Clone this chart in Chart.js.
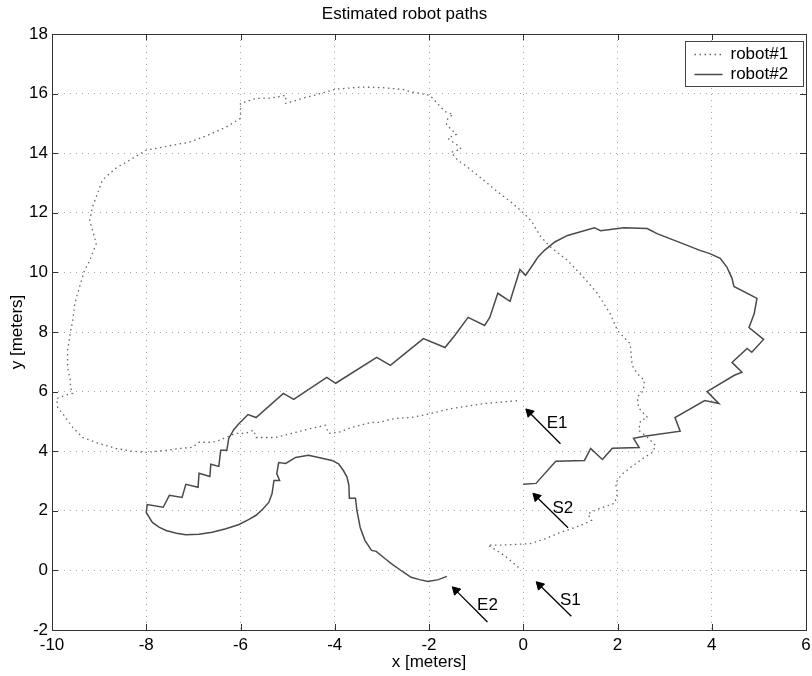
<!DOCTYPE html>
<html>
<head>
<meta charset="utf-8">
<title>Estimated robot paths</title>
<script src="https://cdn.jsdelivr.net/npm/chart.js@4.4.1/dist/chart.umd.min.js"></script>
<style>
  html, body { margin: 0; padding: 0; background: #fff; }
  canvas { display: block; }
</style>
</head>
<body>
<canvas id="pathChart" width="812" height="676"></canvas>
<script>
  // robot#1 (dotted), from S1 round the big loop to E1
  const robot1X = [-0.1, -0.4, -0.75, -0.45, 0.15, 0.45, 0.75, 1.2, 1.45, 1.37,
    1.62, 1.94, 2.0, 1.96, 2.07, 2.28, 2.57, 2.74, 2.81, 2.64,
    2.45, 2.49, 2.64, 2.45, 2.42, 2.55, 2.57, 2.42, 2.31, 2.27,
    2.0, 1.85, 1.57, 1.3, 0.94, 0.58, 0.37, 0.17, 0.0, -0.26,
    -0.54, -0.96, -1.24, -1.38, -1.53, -1.32, -1.38, -1.49, -1.6, -1.42,
    -1.53, -1.63, -1.6, -1.49, -1.66, -1.84, -1.98, -2.16, -2.37, -2.55,
    -3.0, -3.43, -3.98, -4.3, -4.62, -5.04, -5.04, -5.35, -5.67, -6.0,
    -6.0, -6.31, -6.7, -7.09, -7.5, -8.0, -8.64, -8.93, -9.14, -9.2,
    -9.06, -9.2, -9.31, -9.48, -9.52, -9.56, -9.61, -9.67, -9.67, -9.61,
    -9.61, -9.56, -9.73, -9.9, -9.88, -9.78, -9.56, -9.35, -9.0, -8.64,
    -8.29, -8.0, -7.58, -7.3, -7.02, -6.88, -6.6, -6.46, -6.1, -5.89,
    -5.72, -5.67, -5.25, -4.91, -4.49, -4.2, -4.13, -3.92, -3.64, -3.22,
    -3.07, -2.72, -2.37, -1.95, -1.53, -0.82, -0.1];
  const robot1Y = [0.1, 0.5, 0.85, 0.85, 0.9, 1.05, 1.25, 1.5, 1.68, 1.9,
    2.08, 2.25, 2.58, 2.92, 3.19, 3.46, 3.79, 3.96, 4.19, 4.46,
    4.7, 5.03, 5.13, 5.45, 5.81, 6.04, 6.38, 6.6, 6.88, 7.6,
    8.05, 8.6, 9.3, 9.8, 10.4, 10.85, 11.2, 11.73, 12.0, 12.36,
    12.7, 13.25, 13.6, 13.75, 14.03, 14.14, 14.25, 14.37, 14.5, 14.63,
    14.8, 14.96, 15.17, 15.3, 15.4, 15.7, 15.94, 16.0, 16.05, 16.14,
    16.2, 16.22, 16.15, 16.0, 15.87, 15.67, 15.94, 15.85, 15.84, 15.67,
    15.17, 14.87, 14.6, 14.37, 14.25, 14.1, 13.5, 13.1, 12.2, 11.74,
    10.97, 10.4, 10.07, 9.16, 8.9, 8.39, 7.99, 7.38, 6.82, 6.38,
    6.15, 5.94, 5.87, 5.77, 5.47, 5.27, 4.8, 4.46, 4.26, 4.09,
    4.0, 3.96, 4.03, 4.09, 4.13, 4.3, 4.3, 4.36, 4.6, 4.6,
    4.7, 4.46, 4.46, 4.6, 4.77, 4.87, 4.6, 4.63, 4.8, 4.97,
    4.97, 5.1, 5.13, 5.27, 5.43, 5.6, 5.7];

  // robot#2 (solid), from S2 to E2
  const robot2X = [0.0, 0.27, 0.69, 1.3, 1.43, 1.68, 1.89, 2.46, 2.34, 2.57,
    3.33, 3.22, 3.85, 4.15, 3.9, 4.47, 4.64, 4.43, 4.75, 4.85,
    5.1, 4.79, 4.9, 4.96, 4.47, 4.43, 4.32, 4.18, 3.96, 3.75,
    3.33, 2.84, 2.63, 2.14, 1.64, 1.51, 0.94, 0.67, 0.45, 0.31,
    0.24, 0.05, -0.07, -0.28, -0.54, -0.71, -0.82, -1.17, -1.45, -1.66,
    -2.12, -2.82, -3.11, -3.98, -4.17, -4.87, -5.09, -5.67, -5.84, -6.03,
    -6.14, -6.25, -6.29, -6.42, -6.46, -6.63, -6.65, -6.88, -6.9, -7.16,
    -7.24, -7.51, -7.64, -7.98, -8.0, -7.94, -7.87, -7.73, -7.58, -7.36,
    -7.16, -6.88, -6.6, -6.31, -6.03, -5.82, -5.67, -5.53, -5.4, -5.33,
    -5.29, -5.17, -5.23, -5.19, -5.04, -4.83, -4.56, -4.34, -4.06, -3.92,
    -3.82, -3.74, -3.7, -3.69, -3.56, -3.53, -3.46, -3.36, -3.22, -3.12,
    -2.93, -2.8, -2.58, -2.38, -2.2, -2.02, -1.8, -1.62];
  const robot2Y = [2.89, 2.92, 3.66, 3.69, 4.09, 3.72, 4.1, 4.12, 4.43, 4.5,
    4.67, 5.13, 5.7, 5.6, 6.0, 6.54, 6.65, 6.98, 7.45, 7.32,
    7.75, 8.15, 8.61, 9.13, 9.53, 9.8, 10.18, 10.47, 10.63, 10.74,
    11.0, 11.3, 11.47, 11.5, 11.4, 11.5, 11.24, 11.02, 10.74, 10.51,
    10.34, 9.9, 10.1, 9.03, 9.3, 8.49, 8.22, 8.49, 7.89, 7.48,
    7.78, 6.88, 7.15, 6.28, 6.48, 5.74, 5.94, 5.13, 5.23, 4.93,
    4.73, 4.43, 4.03, 4.03, 3.49, 3.56, 3.15, 3.26, 2.79, 2.89,
    2.45, 2.52, 2.12, 2.21, 1.95, 1.79, 1.61, 1.45, 1.34, 1.25,
    1.2, 1.21, 1.28, 1.4, 1.54, 1.71, 1.85, 2.05, 2.28, 2.58,
    3.02, 3.02, 3.25, 3.62, 3.59, 3.79, 3.86, 3.79, 3.69, 3.58,
    3.36, 3.13, 2.85, 2.42, 2.42, 2.01, 1.44, 1.01, 0.67, 0.64,
    0.39, 0.23, -0.02, -0.23, -0.31, -0.37, -0.31, -0.2];

  // start / end markers: arrow from tail to head, text next to it
  const arrowNames = ['E1', 'S2', 'S1', 'E2'];
  const arrowTailX = [0.79, 0.95, 1.02, -0.76];
  const arrowTailY = [4.25, 1.43, -1.54, -1.73];
  const arrowHeadX = [0.13, 0.28, 0.35, -1.43];
  const arrowHeadY = [5.30, 2.47, -0.50, -0.67];
  const labelX = [0.72, 0.84, 1.0, -0.76];
  const labelY = [4.92, 2.07, -0.99, -1.16];

  const xTicks = { min: -10, max: 6, step: 2 };
  const yTicks = { min: -2, max: 18, step: 2 };

  const FONT = '"Liberation Sans", Arial, Helvetica, sans-serif';
  const toPoints = (xs, ys) => xs.map((x, i) => ({ x, y: ys[i] }));

  const datasets = [
    {
      label: 'robot#1',
      data: toPoints(robot1X, robot1Y),
      showLine: true,
      borderColor: '#666',
      borderWidth: 1.3,
      borderDash: [1.5, 3.5],
      pointRadius: 0
    },
    {
      label: 'robot#2',
      data: toPoints(robot2X, robot2Y),
      showLine: true,
      borderColor: '#4a4a4a',
      borderWidth: 1.5,
      pointRadius: 0
    }
  ];
  arrowNames.forEach((name, i) => {
    datasets.push({
      label: name,
      data: [{ x: arrowTailX[i], y: arrowTailY[i] }, { x: arrowHeadX[i], y: arrowHeadY[i] }],
      showLine: true,
      borderColor: '#000',
      backgroundColor: '#000',
      borderWidth: 1.3,
      pointRadius: [0, 5],
      pointStyle: 'triangle',
      pointRotation: -45,
      pointBorderWidth: 1
    });
  });

  // box, inward ticks, marker texts and the boxed legend (matlab look)
  const matlabFrame = {
    id: 'matlabFrame',
    afterDatasetsDraw(chart) {
      const { ctx, chartArea: a, scales: { x, y } } = chart;
      ctx.save();

      ctx.font = '17px ' + FONT;
      ctx.fillStyle = '#000';
      ctx.textAlign = 'center';
      ctx.textBaseline = 'middle';
      arrowNames.forEach((t, i) => {
        ctx.fillText(t, x.getPixelForValue(labelX[i]), y.getPixelForValue(labelY[i]));
      });

      ctx.strokeStyle = '#333';
      ctx.lineWidth = 1;
      ctx.setLineDash([]);
      ctx.beginPath();
      x.ticks.forEach(t => {
        const px = Math.round(x.getPixelForValue(t.value)) + 0.5;
        ctx.moveTo(px, a.bottom); ctx.lineTo(px, a.bottom - 6);
        ctx.moveTo(px, a.top); ctx.lineTo(px, a.top + 6);
      });
      y.ticks.forEach(t => {
        const py = Math.round(y.getPixelForValue(t.value)) + 0.5;
        ctx.moveTo(a.left, py); ctx.lineTo(a.left + 6, py);
        ctx.moveTo(a.right, py); ctx.lineTo(a.right - 6, py);
      });
      ctx.stroke();
      ctx.strokeRect(Math.round(a.left) + 0.5, Math.round(a.top) + 0.5,
        Math.round(a.right - a.left), Math.round(a.bottom - a.top));

      // legend
      const bw = 118, bh = 45;
      const bx = Math.round(a.right) - bw - 3 + 0.5;
      const by = Math.round(a.top) + 7 + 0.5;
      ctx.fillStyle = '#fff';
      ctx.fillRect(bx, by, bw, bh);
      ctx.strokeStyle = '#444';
      ctx.strokeRect(bx, by, bw, bh);
      chart.data.datasets.slice(0, 2).forEach((ds, i) => {
        const ly = by + 13 + i * 20;
        ctx.save();
        ctx.strokeStyle = ds.borderColor;
        ctx.lineWidth = ds.borderWidth;
        ctx.setLineDash(ds.borderDash || []);
        ctx.beginPath();
        ctx.moveTo(bx + 9, ly);
        ctx.lineTo(bx + 37, ly);
        ctx.stroke();
        ctx.restore();
        ctx.fillStyle = '#000';
        ctx.textAlign = 'left';
        ctx.fillText(ds.label, bx + 45, ly);
      });
      ctx.restore();
    }
  };

  const gridStyle = { color: '#a8a8a8', lineWidth: 1, drawTicks: false };
  const borderStyle = { display: false, dash: [1, 5] };

  new Chart(document.getElementById('pathChart'), {
    type: 'scatter',
    data: { datasets },
    options: {
      responsive: false,
      animation: false,
      events: [],
      layout: { padding: { left: 0, right: 3, top: 0, bottom: 0 } },
      plugins: {
        legend: { display: false },
        tooltip: { enabled: false },
        title: {
          display: true,
          text: 'Estimated robot paths',
          color: '#000',
          font: { family: FONT, size: 17, weight: 'normal' },
          padding: { top: 4, bottom: 9.6 }
        }
      },
      scales: {
        x: {
          type: 'linear',
          min: xTicks.min,
          max: xTicks.max,
          ticks: { stepSize: xTicks.step, padding: 5, color: '#000', font: { family: FONT, size: 17 } },
          grid: gridStyle,
          border: borderStyle,
          title: { display: true, text: 'x [meters]', color: '#000', font: { family: FONT, size: 17 }, padding: { top: 0, bottom: 3.8 } },
          afterFit: s => { s.height = 46; s.paddingRight = 0; }
        },
        y: {
          type: 'linear',
          min: yTicks.min,
          max: yTicks.max,
          ticks: { stepSize: yTicks.step, padding: 4, color: '#000', font: { family: FONT, size: 17 } },
          grid: gridStyle,
          border: borderStyle,
          title: { display: true, text: 'y [meters]', color: '#000', font: { family: FONT, size: 17 }, padding: { top: 6.8, bottom: 0 } },
          afterFit: s => { s.width = 52; }
        }
      }
    },
    plugins: [matlabFrame]
  });
</script>
</body>
</html>
